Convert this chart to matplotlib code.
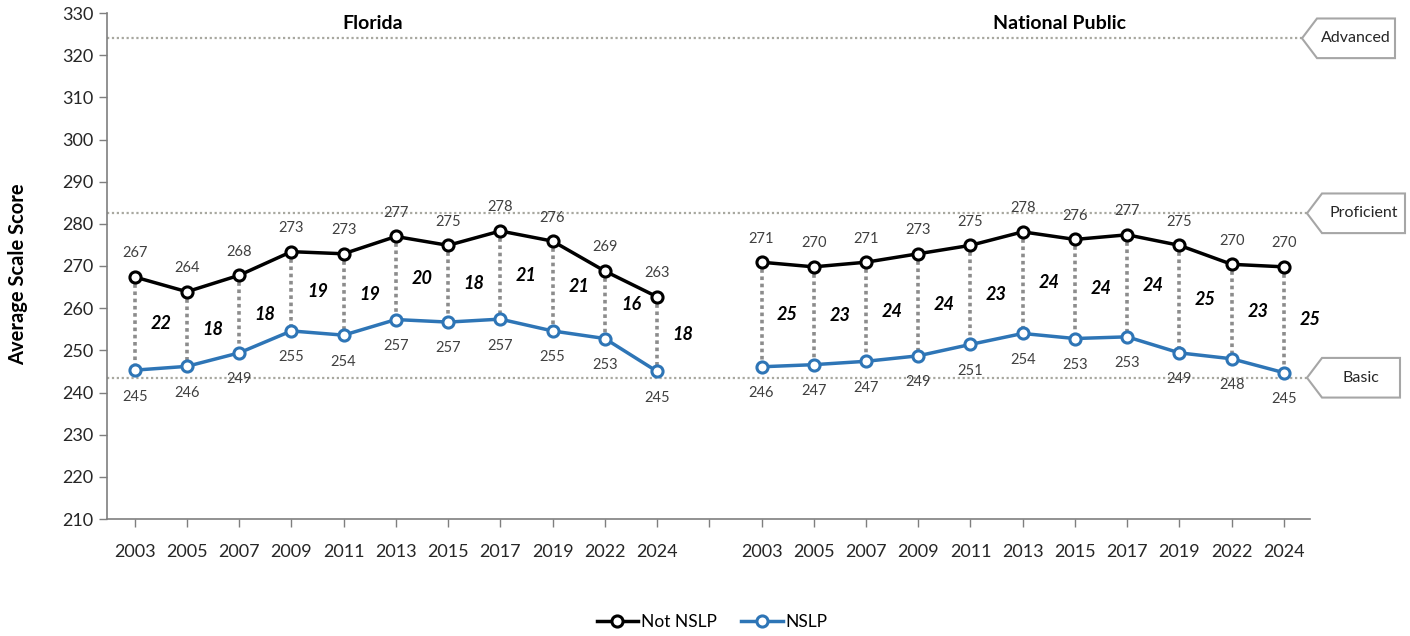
import matplotlib.pyplot as plt
from matplotlib.patches import Polygon
from matplotlib.transforms import blended_transform_factory

plt.rcParams['font.family'] = ['Lato', 'DejaVu Sans']

# data
years = ['2003', '2005', '2007', '2009', '2011', '2013', '2015', '2017', '2019', '2022', '2024']
fl_not_nslp = [267.4, 263.9, 267.8, 273.4, 272.9, 277.0, 274.9, 278.3, 275.9, 268.8, 262.7]
fl_nslp = [245.3, 246.2, 249.4, 254.6, 253.6, 257.3, 256.7, 257.4, 254.6, 252.8, 245.0]
fl_gap = [22, 18, 18, 19, 19, 20, 18, 21, 21, 16, 18]
np_not_nslp = [270.9, 269.8, 270.9, 272.9, 274.9, 278.1, 276.3, 277.4, 274.9, 270.4, 269.8]
np_nslp = [246.1, 246.6, 247.4, 248.7, 251.4, 254.0, 252.8, 253.2, 249.4, 248.0, 244.7]
np_gap = [25, 23, 24, 24, 23, 24, 24, 24, 25, 23, 25]
panels = ['Florida', 'National Public']
levels = ['Basic', 'Proficient', 'Advanced']
level_scores = [243.5, 282.5, 324.0]

W, H = 1410, 636
BLACK = '#000000'
BLUE = '#2E75B6'
TXT = '#404040'

fig = plt.figure(figsize=(W / 100, H / 100), dpi=100)
ax = fig.add_axes([107 / W, 1 - 519 / H, (1310 - 107) / W, (519 - 13) / H])

n = len(years)
xs_fl = list(range(n))
xs_np = [i + n + 1 for i in range(n)]

# achievement level reference lines
for lv in level_scores:
    ax.axhline(lv, color='#a8a8a0', lw=1.6, ls=(0, (1, 1.2)), zorder=1)

handles = None
for xs, top, bot, gaps in [(xs_fl, fl_not_nslp, fl_nslp, fl_gap),
                           (xs_np, np_not_nslp, np_nslp, np_gap)]:
    for x, t, b, g in zip(xs, top, bot, gaps):
        ax.plot([x, x], [t, b], color='#8c8c8c', lw=2.6, ls=(0, (1, 1)), zorder=2)
        ax.text(x + 0.5, (t + b) / 2, str(g), ha='center', va='center',
                fontsize=13, fontweight='bold', style='italic', color=BLACK)
        ax.annotate(f'{round(t)}', (x, t), xytext=(0, 17), textcoords='offset points',
                    ha='center', va='center', fontsize=10.5, color=TXT)
        ax.annotate(f'{round(b)}', (x, b), xytext=(0, -19), textcoords='offset points',
                    ha='center', va='center', fontsize=10.5, color=TXT)
    l1, = ax.plot(xs, top, color=BLACK, lw=2.5, marker='o', ms=8, mfc='white',
                  mec=BLACK, mew=2.2, zorder=4, label='Not NSLP')
    l2, = ax.plot(xs, bot, color=BLUE, lw=2.5, marker='o', ms=8, mfc='white',
                  mec=BLUE, mew=2.2, zorder=4, label='NSLP')
    handles = [l1, l2]

# panel titles
ax.text(4.56, 327.4, panels[0], ha='center', va='center', fontsize=14, fontweight='bold', color=BLACK)
ax.text(17.7, 327.4, panels[1], ha='center', va='center', fontsize=14, fontweight='bold', color=BLACK)

ax.set_xlim(-0.53, xs_np[-1] + 0.5)
ax.set_ylim(210, 330)
ax.set_yticks(range(210, 331, 10))
ax.set_xticks(list(range(xs_np[-1] + 1)))
ax.set_xticklabels(years + [''] + years)
ax.tick_params(axis='both', direction='out', length=6, width=1, color='#7f7f7f',
               labelsize=13, labelcolor='#262626')
ax.tick_params(axis='x', pad=12)
for s in ['top', 'right']:
    ax.spines[s].set_visible(False)
for s in ['left', 'bottom']:
    ax.spines[s].set_color('#7f7f7f')
    ax.spines[s].set_linewidth(1.2)

fig.text(18 / W, 1 - 274 / H, 'Average Scale Score', rotation=90, ha='center', va='center',
         fontsize=14.5, fontweight='bold', color=BLACK)

# level tags on the right
tr = blended_transform_factory(fig.transFigure, ax.transData)
tags = [(1307, 1322, 1400), (1307, 1322, 1405), (1302, 1317, 1395)]
for name, lv, (xt, xb, xr) in zip(levels, level_scores, tags):
    hh = 4.7
    pts = [(xt / W, lv), (xb / W, lv + hh), (xr / W, lv + hh), (xr / W, lv - hh), (xb / W, lv - hh)]
    poly = Polygon(pts, closed=True, facecolor='white', edgecolor='#a6a6a6', lw=1.5,
                   transform=tr, clip_on=False, zorder=5)
    fig.add_artist(poly)
    fig.text((xb + xr) / 2 / W, lv, name, transform=tr, ha='center', va='center',
             fontsize=11.5, color='#262626', zorder=6)

fig.legend(handles, ['Not NSLP', 'NSLP'], loc='center', bbox_to_anchor=(712 / W, 1 - 622 / H),
           ncol=2, frameon=False, fontsize=12.5, handlelength=2.4, handletextpad=0.15,
           columnspacing=1.4)

fig.savefig('out.png', dpi=100)
